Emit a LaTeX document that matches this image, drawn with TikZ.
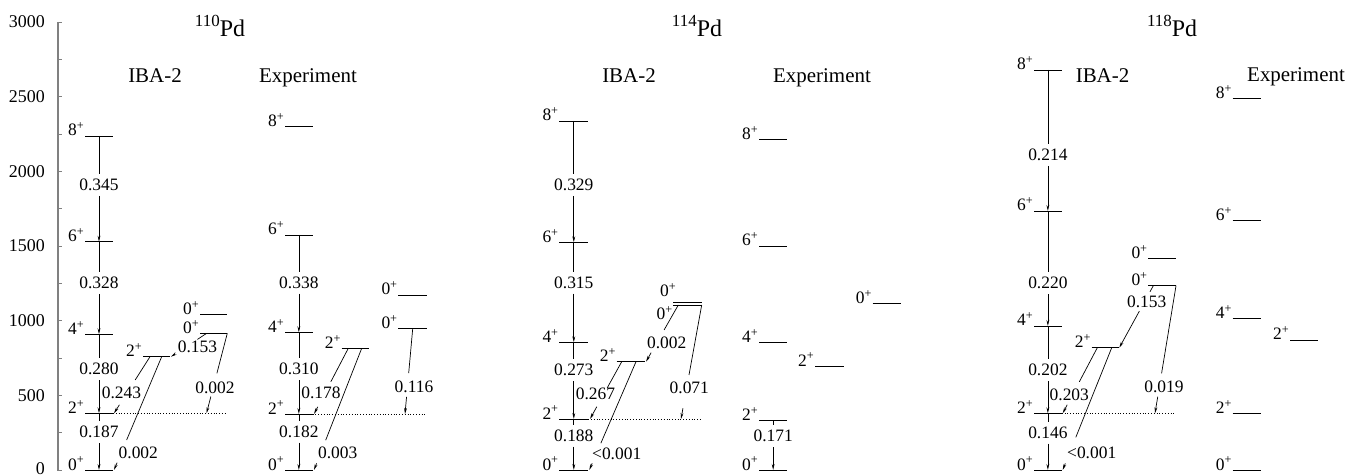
\documentclass[tikz,border=0pt]{standalone}
\usepackage{fontspec}
\setmainfont{Liberation Serif}
\usetikzlibrary{calc,arrows.meta}
\tikzset{
  lev/.style={line width=0.9bp},
  tl/.style={line width=0.7bp},
  tla/.style={line width=0.7bp,-{Stealth[length=6bp,width=2.8bp]}},
  lab/.style={font=\fontsize{17.5}{17.5}\selectfont, inner sep=0},
  spinlab/.style={font=\fontsize{17.5}{17.5}\selectfont, inner sep=0.5bp, anchor=base east},
  ttl/.style={font=\fontsize{21}{21}\selectfont, inner sep=0, anchor=base},
  pdlab/.style={font=\fontsize{24}{24}\selectfont, inner sep=0, anchor=base},
  ticklab/.style={font=\fontsize{18}{18}\selectfont, anchor=east, inner sep=0},
  dots/.style={line width=0.8bp, dotted},
  axisline/.style={draw=gray, line width=1.6bp}
}
\newcommand{\isotope}[1]{{\fontsize{17}{17}\selectfont\raisebox{10bp}{#1}}Pd}
\newcommand{\mylev}[5]{%
  \draw[lev] (#2,#4) coordinate (#1-l) -- (#3,#4) coordinate (#1-r);
  \coordinate (#1-c) at ({(#2+#3)/2},#4);
  \node[spinlab] (#1-s) at (#1-l) {#5\textsuperscript{+}};}
\newcommand{\mylevn}[4]{%
  \draw[lev] (#2,#4) coordinate (#1-l) -- (#3,#4) coordinate (#1-r);}
\newcommand{\slant}[7]{%
  \draw[tl] (#1) -- ($(#1)!#3!(#2)$);
  \draw[tla] ($(#1)!#4!(#2)$) -- (#2);
  \node[lab] (#7) at (#5) {#6};}
\newcommand{\vtr}[5]{%
  \draw[tl] (#2) -- ($(#2|-0,#4)+(0,-11)$);
  \draw[tla] ($(#2|-0,#4)+(0,11)$) -- (#3);
  \node[lab] (#1) at (#2|-0,#4) {#5};}
\begin{document}
\begin{tikzpicture}[x=1bp,y=-1bp]
\useasboundingbox (0,0) rectangle (1363,476);
% axis
\draw[axisline] (58,22) coordinate (ax-top) -- (58,470.5) coordinate (ax-bot);
\foreach \e in {0,250,...,3000}{
  \draw[gray, line width=0.9bp] (58,{470-0.1493*\e}) -- ++(4,0);
}
\foreach \e in {500,1000,...,3000}{
  \node[ticklab] (tk\e) at (45,{470-0.1493*\e}) {\e};
}
\node[ticklab] (tk0) at (45,468.5) {0};
% titles
\node[pdlab] (T110) at (220,37) {\isotope{110}};
\node[pdlab] (T114) at (697,37) {\isotope{114}};
\node[pdlab] (T118) at (1172,37) {\isotope{118}};
\node[ttl] (H1) at (155,83) {IBA-2};
\node[ttl] (H2) at (308,83) {Experiment};
\node[ttl] (H3) at (629,83) {IBA-2};
\node[ttl] (H4) at (822,83) {Experiment};
\node[ttl] (H5) at (1102.5,83) {IBA-2};
\node[ttl] (H6) at (1296,82) {Experiment};
% ---------------- 110Pd IBA-2
\mylev{A0}{85}{113}{470}{0}
\mylev{A2}{85}{113}{413.3}{2}
\mylev{A4}{85}{113}{334.3}{4}
\mylev{A6}{85}{113}{241.7}{6}
\mylev{A8}{85}{113}{136}{8}
\mylev{Ag}{143}{170}{356.7}{2}
\mylev{Aa}{200}{227.3}{333.3}{0}
\mylev{Ab}{200}{227.3}{314.3}{0}
\draw[dots] (A2-r) -- (Aa-r |- A2-r);
\vtr{AV1}{A8-c}{A6-c}{185}{0.345}
\vtr{AV2}{A6-c}{A4-c}{283}{0.328}
\vtr{AV3}{A4-c}{A2-c}{369}{0.280}
\vtr{AV4}{A2-c}{A0-c}{432}{0.187}
\coordinate (Ag-1) at (150,356.7); \coordinate (A2-e) at (114,413.3);
\coordinate (Ag-2) at (161.7,356.7); \coordinate (A0-e) at (114,470);
\coordinate (Aa-1) at (206.7,333.3); \coordinate (Ag-e) at (171,356.7);
\coordinate (Aa-2) at (227.3,333.3); \coordinate (A2-d) at (206.5,413.3);
\slant{Ag-1}{A2-e}{0.41}{0.85}{121.5,393.3}{0.243}{AL1}
\slant{Ag-2}{A0-e}{0.735}{0.935}{138.3,453.3}{0.002}{AL2}
\slant{Aa-1}{Ag-e}{0.26}{0.88}{197.5,347}{0.153}{AL3}
\slant{Aa-2}{A2-d}{0.50}{0.79}{215,388}{0.002}{AL4}
% ---------------- 110Pd Experiment
\mylev{B0}{285}{312.7}{470}{0}
\mylev{B2}{285}{312.7}{414}{2}
\mylev{B4}{285}{312.7}{332.3}{4}
\mylev{B6}{285}{312.7}{235}{6}
\mylev{B8}{285}{312.7}{126.7}{8}
\mylev{Bg}{341.7}{369.3}{348.3}{2}
\mylev{Ba}{398.3}{426.7}{328.7}{0}
\mylev{Bb}{398.3}{426.7}{295}{0}
\draw[dots] (B2-r) -- (Ba-r |- B2-r);
\vtr{BV2}{B6-c}{B4-c}{282.7}{0.338}
\vtr{BV3}{B4-c}{B2-c}{369.3}{0.310}
\vtr{BV4}{B2-c}{B0-c}{431.7}{0.182}
\coordinate (Bg-1) at (348.3,348.3); \coordinate (B2-e) at (314,414);
\coordinate (Bg-2) at (361.7,348.3); \coordinate (B0-e) at (314,470);
\coordinate (Ba-1) at (412.7,328.7); \coordinate (B2-d) at (405,414);
\slant{Bg-1}{B2-e}{0.51}{0.89}{321,393.3}{0.178}{BL1}
\slant{Bg-2}{B0-e}{0.755}{0.945}{337.7,453.3}{0.003}{BL2}
\slant{Ba-1}{B2-d}{0.52}{0.80}{414,387.3}{0.116}{BL3}
% ---------------- 114Pd IBA-2
\mylev{C0}{559.3}{588.3}{470}{0}
\mylev{C2}{559.3}{588.3}{419}{2}
\mylev{C4}{559.3}{588.3}{342.3}{4}
\mylev{C6}{559.3}{588.3}{242.3}{6}
\mylev{C8}{559.3}{588.3}{121}{8}
\mylev{Cg}{616.7}{645}{361.7}{2}
\mylevn{Ca}{673.3}{701.7}{305}
\mylevn{Cb}{673.3}{701.7}{302.3}
\node[spinlab] (Cb-s) at (677,296.7) {0\textsuperscript{+}};
\node[spinlab] (Ca-s) at (673.5,320) {0\textsuperscript{+}};
\draw[dots] (C2-r) -- (Ca-r |- C2-r);
\vtr{CV1}{C8-c}{C6-c}{185}{0.329}
\vtr{CV2}{C6-c}{C4-c}{282.7}{0.315}
\vtr{CV3}{C4-c}{C2-c}{370}{0.273}
\vtr{CV4}{C2-c}{C0-c}{435.7}{0.188}
\coordinate (Cg-1) at (621.7,361.7); \coordinate (C2-e) at (590,419);
\coordinate (Cg-2) at (636,361.7); \coordinate (C0-e) at (589.3,470);
\coordinate (Ca-1) at (678.3,305); \coordinate (Cg-e) at (646,361.7);
\coordinate (Ca-2) at (701.7,305); \coordinate (C2-d) at (681,419);
\slant{Cg-1}{C2-e}{0.46}{0.785}{595.5,394}{0.267}{CL1}
\slant{Cg-2}{C0-e}{0.753}{0.938}{616.7,454}{\textless0.001}{CL2}
\slant{Ca-1}{Cg-e}{0.44}{0.84}{666.7,342.7}{0.002}{CL3}
\slant{Ca-2}{C2-d}{0.614}{0.906}{689.3,387.7}{0.071}{CL4}
% ---------------- 114Pd Experiment
\mylev{D0}{759}{787.3}{470}{0}
\mylev{D2}{759}{787.3}{420.7}{2}
\mylev{D4}{759}{787.3}{342.7}{4}
\mylev{D6}{759}{787.3}{246}{6}
\mylev{D8}{759}{787.3}{139.3}{8}
\mylev{Dg}{815}{844}{366}{2}
\mylev{Da}{872.7}{901}{303.3}{0}
\vtr{DV4}{D2-c}{D0-c}{436}{0.171}
% ---------------- 118Pd IBA-2
\mylev{E0}{1034}{1061.7}{470}{0}
\mylev{E2}{1034}{1061.7}{413.3}{2}
\mylev{E4}{1034}{1061.7}{326}{4}
\mylev{E6}{1034}{1061.7}{211}{6}
\mylev{E8}{1034}{1061.7}{70}{8}
\mylev{Eg}{1091.7}{1119.3}{347.7}{2}
\mylev{Ea}{1148.3}{1176}{285.7}{0}
\mylev{Eb}{1148.3}{1176}{258.3}{0}
\draw[dots] (E2-r) -- (Ea-r |- E2-r);
\vtr{EV1}{E8-c}{E6-c}{155}{0.214}
\vtr{EV2}{E6-c}{E4-c}{283.3}{0.220}
\vtr{EV3}{E4-c}{E2-c}{370}{0.202}
\vtr{EV4}{E2-c}{E0-c}{432.7}{0.146}
\coordinate (Eg-1) at (1097.3,347.7); \coordinate (E2-e) at (1062.7,413.3);
\coordinate (Eg-2) at (1111.7,347.7); \coordinate (E0-e) at (1062.7,470);
\coordinate (Ea-1) at (1153.3,285.7); \coordinate (Eg-e) at (1119.3,347.7);
\coordinate (Ea-2) at (1176,285.7); \coordinate (E2-d) at (1155,413.3);
\slant{Eg-1}{E2-e}{0.52}{0.87}{1069.3,395}{0.203}{EL1}
\slant{Eg-2}{E0-e}{0.733}{0.946}{1091.7,453.3}{\textless0.001}{EL2}
\slant{Ea-1}{Eg-e}{0.097}{0.41}{1146.7,301.7}{0.153}{EL3}
\slant{Ea-2}{E2-d}{0.687}{0.87}{1164,387.3}{0.019}{EL4}
% ---------------- 118Pd Experiment
\mylev{F0}{1232.7}{1261}{470}{0}
\mylev{F2}{1232.7}{1261}{413.3}{2}
\mylev{F4}{1232.7}{1261}{318.3}{4}
\mylev{F6}{1232.7}{1261}{220.7}{6}
\mylev{F8}{1232.7}{1261}{98.3}{8}
\mylev{Fg}{1290}{1317.7}{340}{2}
\end{tikzpicture}
\end{document}
